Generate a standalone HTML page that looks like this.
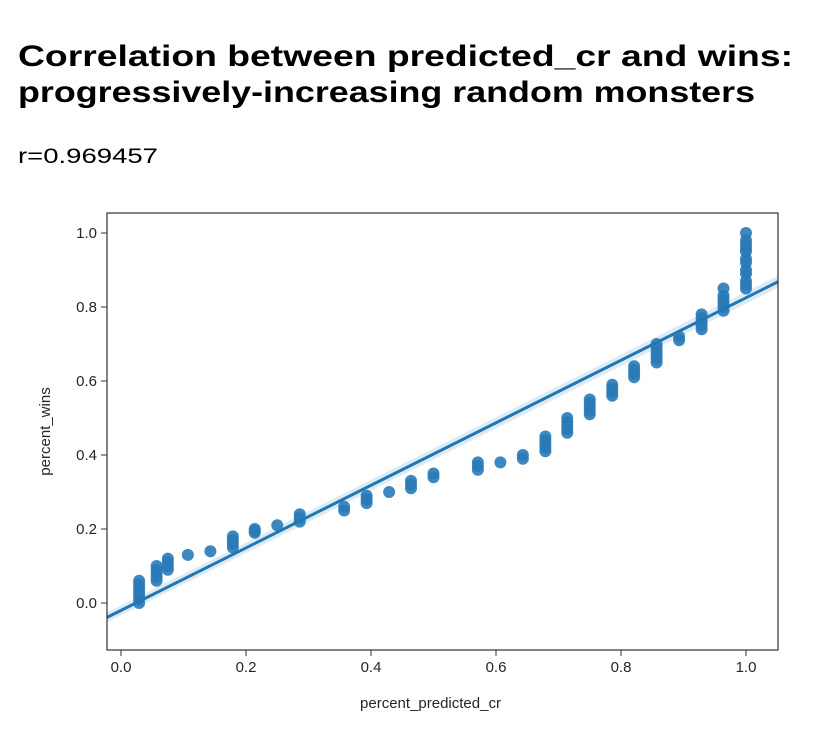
<!DOCTYPE html>
<html><head><meta charset="utf-8"><style>
html,body{margin:0;padding:0;background:#fff;width:838px;height:746px;overflow:hidden}
svg{display:block;font-family:"Liberation Sans",Arial,sans-serif}
</style></head><body>
<svg id="chart" width="838" height="746">
<text x="18" y="66" font-size="30" font-weight="bold" textLength="775" lengthAdjust="spacingAndGlyphs">Correlation between predicted_cr and wins:</text>
<text x="18" y="102" font-size="30" font-weight="bold" textLength="737" lengthAdjust="spacingAndGlyphs">progressively-increasing random monsters</text>
<text x="18" y="163" font-size="21" textLength="140" lengthAdjust="spacingAndGlyphs">r=0.969457</text>
<g id="plot"></g>
</svg>
<script>
const xCats = [0.029,0.057,0.075,0.107,0.143,0.179,0.214,0.25,0.286,0.357,0.393,0.429,0.464,0.5,0.571,0.607,0.643,0.679,0.714,0.75,0.786,0.821,0.857,0.893,0.929,0.964,1.0];
const yVals = [
 [0,0.01,0.02,0.03,0.04,0.05,0.06],[0.06,0.07,0.08,0.09,0.1],[0.09,0.1,0.11,0.12],[0.13],[0.14],[0.15,0.16,0.17,0.18],[0.19,0.195,0.2],[0.21],[0.22,0.23,0.24],
 [0.25,0.26],[0.27,0.28,0.29],[0.3],[0.31,0.32,0.33],[0.34,0.35],[0.36,0.37,0.38],[0.38],[0.39,0.4],[0.41,0.42,0.43,0.44,0.45],[0.46,0.47,0.48,0.49,0.5],
 [0.51,0.52,0.53,0.54,0.55],[0.56,0.57,0.58,0.59],[0.61,0.62,0.63,0.64],[0.65,0.66,0.67,0.68,0.69,0.7],[0.71,0.72],[0.74,0.75,0.76,0.77,0.78],[0.79,0.8,0.81,0.82,0.83,0.85],[0.85,0.86,0.87,0.89,0.9,0.92,0.93,0.95,0.96,0.97,0.98,1.0]
];
const xTicks = [0.0,0.2,0.4,0.6,0.8,1.0];
const yTicks = [0.0,0.2,0.4,0.6,0.8,1.0];
const fitSlope = 0.845, fitIntercept = -0.02;
const ns="http://www.w3.org/2000/svg";
const L=107,R=778,T=213,B=650;
const xS=v=>121+625*v, yS=v=>603-370*v;
const xMin=(L-121)/625, xMax=(R-121)/625;
const g=document.getElementById('plot');
function mk(t,a){const e=document.createElementNS(ns,t);for(const k in a)e.setAttribute(k,a[k]);g.appendChild(e);return e;}
const x0=xMin,x1=xMax;
const band=mk('polygon',{points:`${xS(x0)},${yS(fitIntercept+fitSlope*x0)-5} ${xS(x1)},${yS(fitIntercept+fitSlope*x1)-6} ${xS(x1)},${yS(fitIntercept+fitSlope*x1)+6} ${xS(x0)},${yS(fitIntercept+fitSlope*x0)+5}`,fill:'#1f77b4','fill-opacity':0.15});


xCats.forEach((x,i)=>{yVals[i].forEach(y=>{
 const c=mk('circle',{cx:xS(x),cy:yS(y),r:6,fill:'#2a7ab8','fill-opacity':0.9});
 
 
});});
const ln=mk('line',{x1:xS(x0),y1:yS(fitIntercept+fitSlope*x0),x2:xS(x1),y2:yS(fitIntercept+fitSlope*x1),stroke:'#1f77b4','stroke-width':3});


const fr=mk('rect',{x:L,y:T,width:R-L,height:B-T,fill:'none',stroke:'#333','stroke-width':1.2});


xTicks.forEach(t=>{
 const tk=mk('line',{x1:xS(t),x2:xS(t),y1:B,y2:B+6,stroke:'#333'});
 
 
 const tx=mk('text',{x:xS(t),y:B+22,'font-size':15,'text-anchor':'middle',fill:'#262626'});
 tx.textContent=t.toFixed(1);
 
 
});
yTicks.forEach(t=>{
 const tk=mk('line',{x1:L-6,x2:L,y1:yS(t),y2:yS(t),stroke:'#333'});
 
 
 const tx=mk('text',{x:L-10,y:yS(t)+5,'font-size':15,'text-anchor':'end',fill:'#262626'});
 tx.textContent=t.toFixed(1);
 
 
});
const xl=mk('text',{x:(L+R)/2-12,y:708,'font-size':15,'text-anchor':'middle',fill:'#262626'});
xl.textContent='percent_predicted_cr';


const yl=mk('text',{x:0,y:0,'font-size':15,'text-anchor':'middle',fill:'#262626',transform:`translate(50,${(T+B)/2}) rotate(-90)`});
yl.textContent='percent_wins';


</script>
</body></html>
